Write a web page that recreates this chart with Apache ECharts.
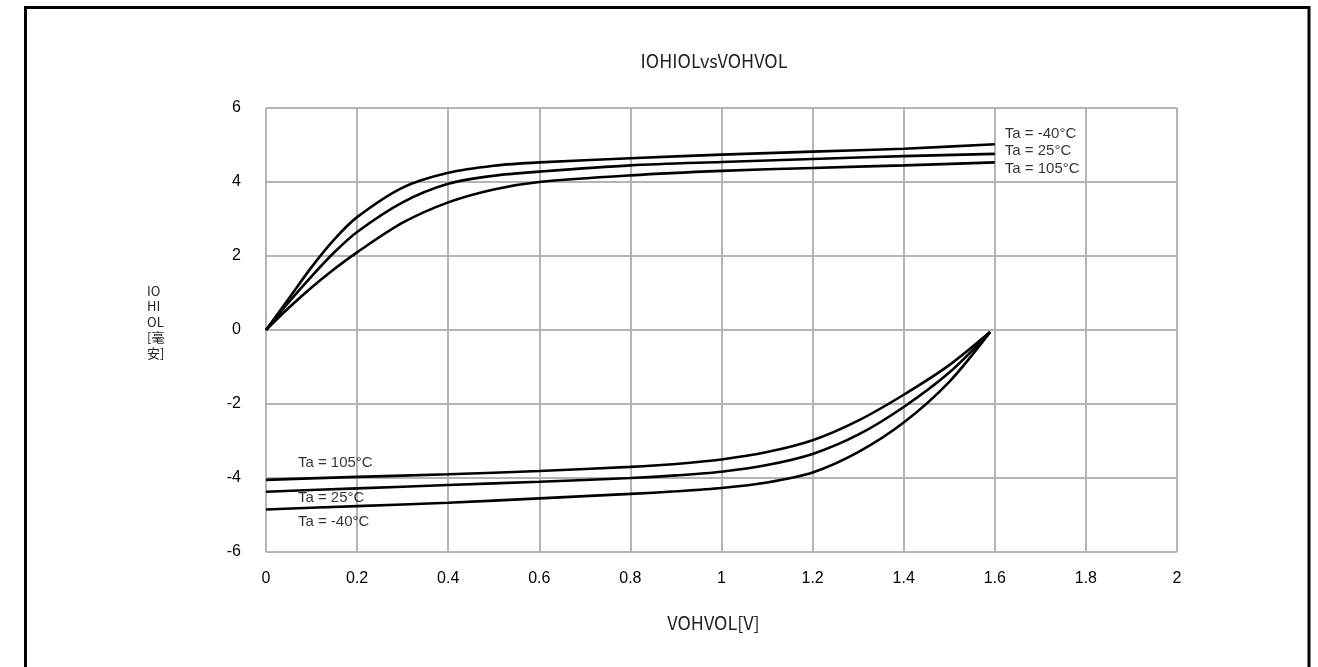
<!DOCTYPE html>
<html><head><meta charset="utf-8">
<script src="https://cdn.jsdelivr.net/npm/echarts@6/dist/echarts.min.js"></script>
<style>html,body{margin:0;padding:0;background:#fff}#c{width:1318px;height:667px}</style>
</head><body><div id="c"></div>
<script>
// Data (x = VOH/VOL [V], y = IOH/IOL [mA])
const xHigh = [0, 0.05, 0.1, 0.15, 0.2, 0.3, 0.4, 0.5, 0.6, 0.8, 1.0, 1.2, 1.4, 1.6];
const ioh_m40 = [0, 0.85, 1.7, 2.45, 3.05, 3.85, 4.25, 4.44, 4.53, 4.64, 4.74, 4.82, 4.9, 5.02];
const ioh_25  = [0, 0.75, 1.45, 2.1, 2.65, 3.45, 3.95, 4.17, 4.28, 4.45, 4.54, 4.62, 4.7, 4.76];
const ioh_105 = [0, 0.6, 1.15, 1.65, 2.1, 2.9, 3.45, 3.8, 4.0, 4.18, 4.3, 4.38, 4.45, 4.53];
const xLow = [0, 0.2, 0.4, 0.6, 0.8, 0.9, 1.0, 1.1, 1.2, 1.3, 1.4, 1.5, 1.59];
const iol_105 = [-4.05, -3.97, -3.9, -3.81, -3.7, -3.62, -3.5, -3.3, -2.98, -2.45, -1.75, -0.95, -0.05];
const iol_25  = [-4.37, -4.28, -4.19, -4.1, -4.0, -3.93, -3.83, -3.65, -3.35, -2.83, -2.08, -1.15, -0.05];
const iol_m40 = [-4.85, -4.76, -4.67, -4.55, -4.43, -4.36, -4.27, -4.12, -3.85, -3.3, -2.5, -1.4, -0.05];
const xTicks = [0, 0.2, 0.4, 0.6, 0.8, 1, 1.2, 1.4, 1.6, 1.8, 2];
const yTicks = [-6, -4, -2, 0, 2, 4, 6];
const labelTexts = ['Ta = -40°C', 'Ta = 25°C', 'Ta = 105°C', 'Ta = 105°C', 'Ta = 25°C', 'Ta = -40°C'];
const labelX = [1.622, 1.622, 1.622, 0.07, 0.07, 0.07];
const labelY = [5.3, 4.84, 4.35, -3.59, -4.54, -5.19];

const zip = (xs, ys) => xs.map((x, i) => [x, ys[i]]);
const lineStyle = {color: '#000', width: 2.6};
const mkLine = (name, xs, ys) => ({
  name, type: 'line', data: zip(xs, ys), smooth: 0.3, symbol: 'none',
  lineStyle, silent: true, z: 3
});

const chart = echarts.init(document.getElementById('c'), null, {renderer: 'canvas'});
chart.setOption({
  animation: false,
  backgroundColor: '#fff',
  title: {
    text: 'IOHIOLvsVOHVOL', left: 709, top: 47, textAlign: 'center',
    textStyle: {fontFamily: 'Noto Sans CJK SC', fontSize: 18, fontWeight: 'normal', color: '#222'}
  },
  graphic: [{
    type: 'rect', shape: {x: 25.5, y: 7.5, width: 1283.5, height: 700},
    style: {fill: 'none', stroke: '#000', lineWidth: 3}, z: 10
  }, {
    type: 'text', left: 147, top: 283,
    style: {text: 'IO\nHI\nOL\n[毫\n安]', font: '13px "Noto Sans CJK SC"', fill: '#222', lineHeight: 15.5}
  }],
  grid: {left: 266, right: 141, top: 108, bottom: 115},
  xAxis: {
    type: 'value', min: 0, max: 2, interval: 0.2,
    name: 'VOHVOL[V]', nameLocation: 'middle', nameGap: 62,
    nameTextStyle: {fontFamily: 'Noto Sans CJK SC', fontSize: 18, color: '#222', padding: [0, 16, 0, 0]},
    axisLine: {show: false}, axisTick: {show: false},
    axisLabel: {fontFamily: 'Liberation Sans', fontSize: 16, color: '#000', margin: 19,
      formatter: v => { const t = xTicks.find(k => Math.abs(k - v) < 1e-6); return t === undefined ? '' : String(t); }},
    splitLine: {show: true, lineStyle: {color: '#b4b4b4', width: 2}}
  },
  yAxis: {
    type: 'value', min: -6, max: 6, interval: 2,
    axisLine: {show: false}, axisTick: {show: false},
    axisLabel: {fontFamily: 'Liberation Sans', fontSize: 16, color: '#000', margin: 25,
      formatter: v => { const t = yTicks.find(k => Math.abs(k - v) < 1e-6); return t === undefined ? '' : String(t); }},
    splitLine: {show: true, lineStyle: {color: '#b4b4b4', width: 2}}
  },
  series: [
    mkLine('IOH -40', xHigh, ioh_m40),
    mkLine('IOH 25', xHigh, ioh_25),
    mkLine('IOH 105', xHigh, ioh_105),
    mkLine('IOL 105', xLow, iol_105),
    mkLine('IOL 25', xLow, iol_25),
    mkLine('IOL -40', xLow, iol_m40),
    {
      type: 'scatter', symbolSize: 0, silent: true, z: 5,
      data: labelX.map((x, i) => ({value: [x, labelY[i]], label: {formatter: labelTexts[i]}})),
      label: {show: true, position: 'right', distance: 0, fontFamily: 'Liberation Sans', fontSize: 15, color: '#000'}
    }
  ]
});
</script></body></html>
